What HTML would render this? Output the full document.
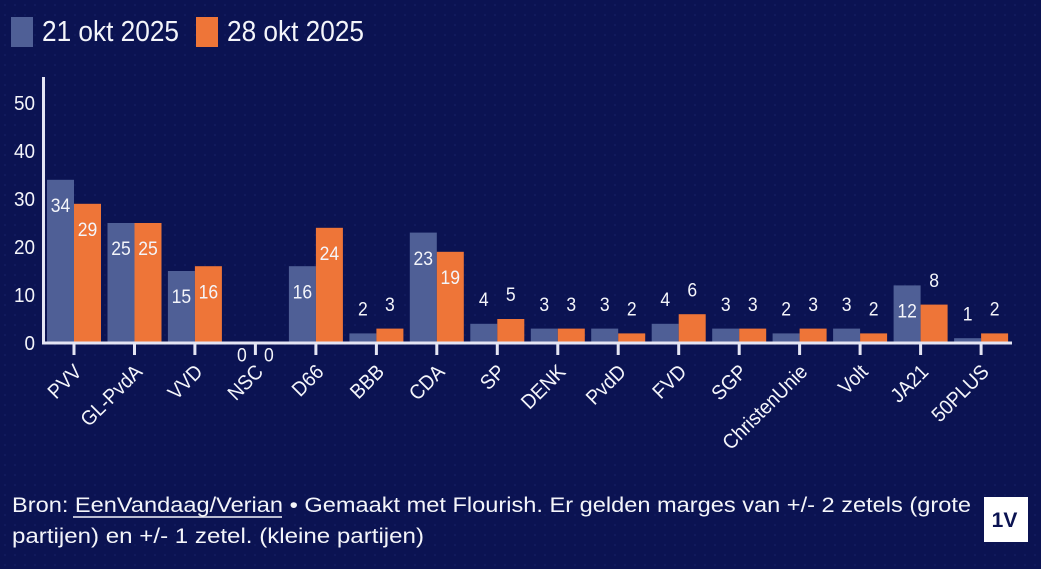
<!DOCTYPE html>
<html>
<head>
<meta charset="utf-8">
<style>
html,body{margin:0;padding:0;background:#0b1352;}
svg{display:block;}
text{font-family:"Liberation Sans",sans-serif;fill:#f4f5fa;}
</style>
</head>
<body>
<svg width="1041" height="569" viewBox="0 0 1041 569" xmlns="http://www.w3.org/2000/svg">
<defs>
<pattern id="dots" width="10" height="10" patternUnits="userSpaceOnUse">
<circle cx="5" cy="5" r="0.8" fill="#17226a"/>
</pattern>
</defs>
<rect width="1041" height="569" fill="#0b1352"/>
<rect width="1041" height="569" fill="url(#dots)"/>

<!-- legend -->
<rect x="11" y="17" width="22" height="30" fill="#4f5f96"/>
<text x="42" y="41" font-size="28.5" textLength="137" lengthAdjust="spacingAndGlyphs">21 okt 2025</text>
<rect x="196" y="17" width="22" height="30" fill="#ee7538"/>
<text x="227" y="41" font-size="28.5" textLength="137" lengthAdjust="spacingAndGlyphs">28 okt 2025</text>

<!-- y tick labels -->
<g font-size="20.5" text-anchor="end">
<text transform="translate(35,110) scale(0.92,1)">50</text>
<text transform="translate(35,158) scale(0.92,1)">40</text>
<text transform="translate(35,206) scale(0.92,1)">30</text>
<text transform="translate(35,254) scale(0.92,1)">20</text>
<text transform="translate(35,302) scale(0.92,1)">10</text>
<text transform="translate(35,350) scale(0.92,1)">0</text>
</g>

<!-- bars blue -->
<g fill="#4f5f96">
<rect x="47" y="179.8" width="27" height="162.2"/>
<rect x="107.5" y="223" width="27" height="119"/>
<rect x="167.9" y="271" width="27" height="71"/>
<rect x="288.9" y="266.2" width="27" height="75.8"/>
<rect x="349.4" y="333.4" width="27" height="8.6"/>
<rect x="409.8" y="232.6" width="27" height="109.4"/>
<rect x="470.3" y="323.8" width="27" height="18.2"/>
<rect x="530.8" y="328.6" width="27" height="13.4"/>
<rect x="591.2" y="328.6" width="27" height="13.4"/>
<rect x="651.7" y="323.8" width="27" height="18.2"/>
<rect x="712.2" y="328.6" width="27" height="13.4"/>
<rect x="772.6" y="333.4" width="27" height="8.6"/>
<rect x="833.1" y="328.6" width="27" height="13.4"/>
<rect x="893.6" y="285.4" width="27" height="56.6"/>
<rect x="954.1" y="338.2" width="27" height="3.8"/>
</g>
<!-- bars orange -->
<g fill="#ee7538">
<rect x="74" y="203.8" width="27" height="138.2"/>
<rect x="134.5" y="223" width="27" height="119"/>
<rect x="194.9" y="266.2" width="27" height="75.8"/>
<rect x="315.9" y="227.8" width="27" height="114.2"/>
<rect x="376.4" y="328.6" width="27" height="13.4"/>
<rect x="436.8" y="251.8" width="27" height="90.2"/>
<rect x="497.3" y="319" width="27" height="23"/>
<rect x="557.8" y="328.6" width="27" height="13.4"/>
<rect x="618.2" y="333.4" width="27" height="8.6"/>
<rect x="678.7" y="314.2" width="27" height="27.8"/>
<rect x="739.2" y="328.6" width="27" height="13.4"/>
<rect x="799.6" y="328.6" width="27" height="13.4"/>
<rect x="860.1" y="333.4" width="27" height="8.6"/>
<rect x="920.6" y="304.6" width="27" height="37.4"/>
<rect x="981.1" y="333.4" width="27" height="8.6"/>
</g>

<!-- axes -->
<line x1="43.5" y1="77" x2="43.5" y2="344.5" stroke="#e4e5f4" stroke-width="3"/>
<line x1="42" y1="343" x2="1012" y2="343" stroke="#e4e5f4" stroke-width="3"/>
<g stroke="#e4e5f4" stroke-width="3">
<line x1="74" y1="343" x2="74" y2="355"/>
<line x1="134.5" y1="343" x2="134.5" y2="355"/>
<line x1="194.9" y1="343" x2="194.9" y2="355"/>
<line x1="255.4" y1="343" x2="255.4" y2="355"/>
<line x1="315.9" y1="343" x2="315.9" y2="355"/>
<line x1="376.4" y1="343" x2="376.4" y2="355"/>
<line x1="436.8" y1="343" x2="436.8" y2="355"/>
<line x1="497.3" y1="343" x2="497.3" y2="355"/>
<line x1="557.8" y1="343" x2="557.8" y2="355"/>
<line x1="618.2" y1="343" x2="618.2" y2="355"/>
<line x1="678.7" y1="343" x2="678.7" y2="355"/>
<line x1="739.2" y1="343" x2="739.2" y2="355"/>
<line x1="799.6" y1="343" x2="799.6" y2="355"/>
<line x1="860.1" y1="343" x2="860.1" y2="355"/>
<line x1="920.6" y1="343" x2="920.6" y2="355"/>
<line x1="981.1" y1="343" x2="981.1" y2="355"/>
</g>

<!-- value labels -->
<g font-size="19.5" text-anchor="middle">
<text transform="translate(60.5,212) scale(0.9,1)">34</text>
<text transform="translate(87.5,236) scale(0.9,1)">29</text>
<text transform="translate(121,255.2) scale(0.9,1)">25</text>
<text transform="translate(148,255.2) scale(0.9,1)">25</text>
<text transform="translate(181.4,303.2) scale(0.9,1)">15</text>
<text transform="translate(208.4,298.4) scale(0.9,1)">16</text>
<text transform="translate(241.9,361.5) scale(0.9,1)">0</text>
<text transform="translate(268.9,361.5) scale(0.9,1)">0</text>
<text transform="translate(302.4,298.4) scale(0.9,1)">16</text>
<text transform="translate(329.4,260) scale(0.9,1)">24</text>
<text transform="translate(362.9,315.6) scale(0.9,1)">2</text>
<text transform="translate(389.9,310.8) scale(0.9,1)">3</text>
<text transform="translate(423.3,264.8) scale(0.9,1)">23</text>
<text transform="translate(450.3,284) scale(0.9,1)">19</text>
<text transform="translate(483.8,306) scale(0.9,1)">4</text>
<text transform="translate(510.8,301.2) scale(0.9,1)">5</text>
<text transform="translate(544.3,310.8) scale(0.9,1)">3</text>
<text transform="translate(571.3,310.8) scale(0.9,1)">3</text>
<text transform="translate(604.7,310.8) scale(0.9,1)">3</text>
<text transform="translate(631.7,315.6) scale(0.9,1)">2</text>
<text transform="translate(665.2,306) scale(0.9,1)">4</text>
<text transform="translate(692.2,296.4) scale(0.9,1)">6</text>
<text transform="translate(725.7,310.8) scale(0.9,1)">3</text>
<text transform="translate(752.7,310.8) scale(0.9,1)">3</text>
<text transform="translate(786.1,315.6) scale(0.9,1)">2</text>
<text transform="translate(813.1,310.8) scale(0.9,1)">3</text>
<text transform="translate(846.6,310.8) scale(0.9,1)">3</text>
<text transform="translate(873.6,315.6) scale(0.9,1)">2</text>
<text transform="translate(907.1,317.6) scale(0.9,1)">12</text>
<text transform="translate(934.1,286.8) scale(0.9,1)">8</text>
<text transform="translate(967.6,320.4) scale(0.9,1)">1</text>
<text transform="translate(994.6,315.6) scale(0.9,1)">2</text>
</g>

<!-- x labels -->
<g font-size="20.5" text-anchor="end">
<text transform="translate(83,373) rotate(-45) scale(0.93,1)">PVV</text>
<text transform="translate(143.5,373) rotate(-45) scale(0.93,1)">GL-PvdA</text>
<text transform="translate(203.9,373) rotate(-45) scale(0.93,1)">VVD</text>
<text transform="translate(264.4,373) rotate(-45) scale(0.93,1)">NSC</text>
<text transform="translate(324.9,373) rotate(-45) scale(0.93,1)">D66</text>
<text transform="translate(385.4,373) rotate(-45) scale(0.93,1)">BBB</text>
<text transform="translate(445.8,373) rotate(-45) scale(0.93,1)">CDA</text>
<text transform="translate(506.3,373) rotate(-45) scale(0.93,1)">SP</text>
<text transform="translate(566.8,373) rotate(-45) scale(0.93,1)">DENK</text>
<text transform="translate(627.2,373) rotate(-45) scale(0.93,1)">PvdD</text>
<text transform="translate(687.7,373) rotate(-45) scale(0.93,1)">FVD</text>
<text transform="translate(748.2,373) rotate(-45) scale(0.93,1)">SGP</text>
<text transform="translate(808.6,373) rotate(-45) scale(0.93,1)">ChristenUnie</text>
<text transform="translate(869.1,373) rotate(-45) scale(0.93,1)">Volt</text>
<text transform="translate(929.6,373) rotate(-45) scale(0.93,1)">JA21</text>
<text transform="translate(990.1,373) rotate(-45) scale(0.93,1)">50PLUS</text>
</g>

<!-- footer -->
<text x="12" y="512" font-size="21" textLength="959" lengthAdjust="spacingAndGlyphs">Bron: EenVandaag/Verian • Gemaakt met Flourish. Er gelden marges van +/- 2 zetels (grote</text>
<line x1="73" y1="517" x2="282" y2="517" stroke="#f4f5fa" stroke-width="1.6"/>
<text x="12" y="543" font-size="21" textLength="412" lengthAdjust="spacingAndGlyphs">partijen) en +/- 1 zetel. (kleine partijen)</text>

<!-- logo -->
<rect x="984" y="497" width="44" height="45" fill="#ffffff"/>
<text x="1004.5" y="527" font-size="21" font-weight="bold" text-anchor="middle" style="fill:#0b1352">1V</text>
</svg>
</body>
</html>
